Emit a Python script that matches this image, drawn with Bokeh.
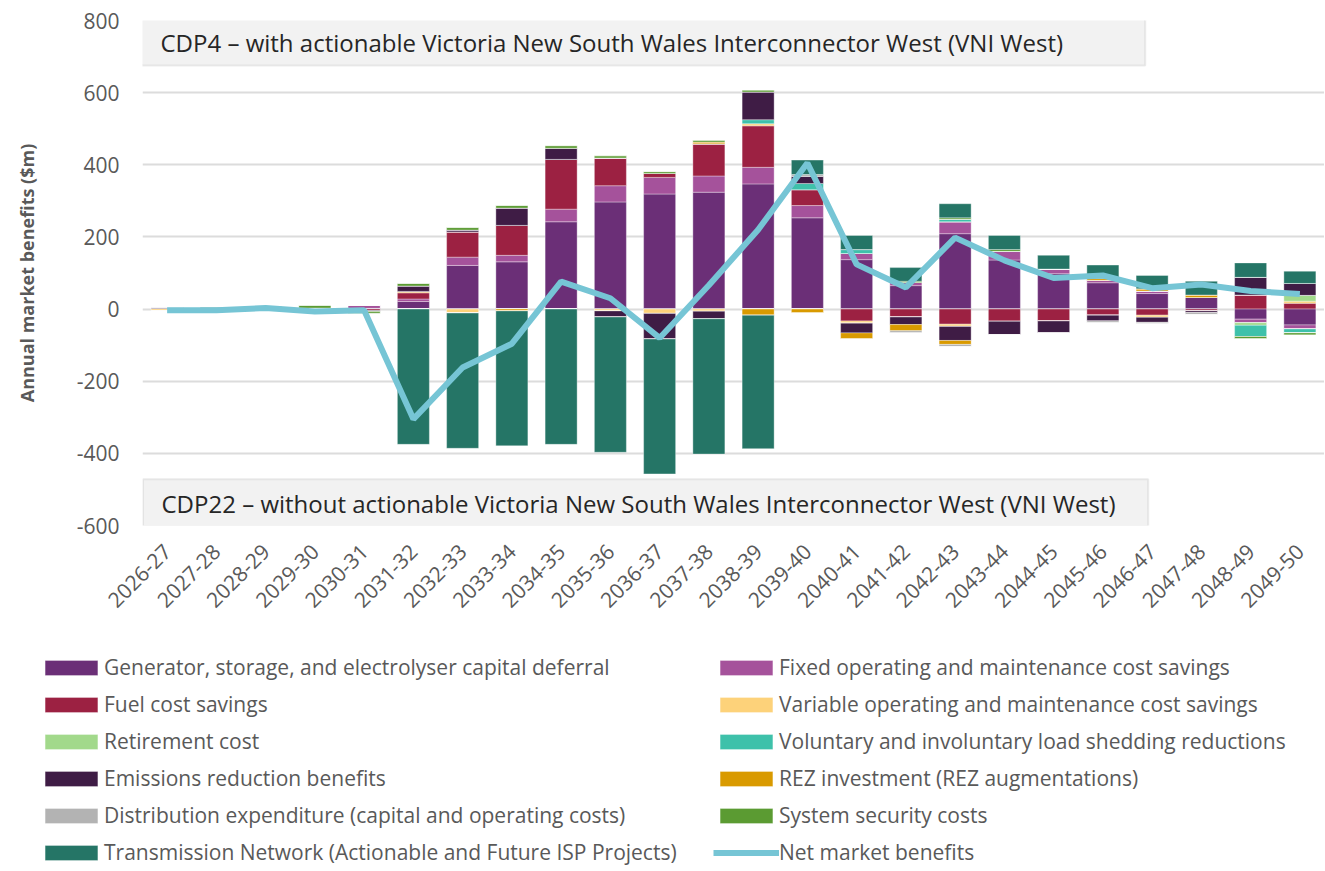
from bokeh.plotting import figure
from bokeh.models import (ColumnDataSource, Range1d, FixedTicker, Legend, LegendItem,
                          BoxAnnotation, Label)
from bokeh.layouts import column
from bokeh.embed import file_html
from bokeh.resources import INLINE
import math

years = ["2026-27", "2027-28", "2028-29", "2029-30", "2030-31", "2031-32", "2032-33",
         "2033-34", "2034-35", "2035-36", "2036-37", "2037-38", "2038-39", "2039-40",
         "2040-41", "2041-42", "2042-43", "2043-44", "2044-45", "2045-46", "2046-47",
         "2047-48", "2048-49", "2049-50"]

generator = [0, 2, 3, 3, 2, 21, 121, 131, 242, 297, 319, 324, 347, 253,
             137, 65, 209, 136, 98, 73, 43, 32, -28, -44]
fixed_om = [0, 0, 0, 0, 8, 7, 23, 18, 35, 45, 46, 45, 46, 34,
            17, 9, 33, 24, 13, 7, 7, 0, -10, -11]
fuel = [0, 0, 0, 0, -4, 17, 70, 83, 138, 77, 11, 89, 115, 44,
        -33, -22, -42, -34, -33, -17, -17, -5, 39, 16]
variable_om = [-5, 0, 0, 0, 0, 4, -11, 0, 0, -5, -12, -6, 6, 0,
               -6, 0, -6, 0, 0, 0, -6, 0, 0, 6]
retirement = [0, 0, 0, 0, 0, 0, 0, 0, 0, 0, 0, 0, 0, 0,
              0, 0, 0, 0, 0, 0, 0, 0, -7, 16]
load_shedding = [0, 0, 0, 0, 0, 0, 0, 0, 0, 0, 0, 0, 11, 17,
                 11, 0, 7, 0, 0, 0, 0, 0, -31, -11]
emissions = [5, 0, -5, -3, -3, 15, 5, 48, 31, -17, -71, -21, 77, 20,
             -27, -21, -39, -37, -33, -16, -14, -5, 49, 33]
rez = [0, 0, 0, 0, 0, 0, 0, -5, 0, 0, 0, 5, -17, -11,
       -17, -17, -11, 0, 0, 5, 6, 7, 0, 0]
distribution = [0, 0, 0, 0, 0, 0, 0, 0, 0, 0, 0, 0, 0, 5,
                0, -6, -6, 0, 0, -5, -4, -5, 0, 0]
system_security = [0, 2, 5, 7, -5, 7, 7, 7, 7, 6, 5, 5, 5, 0,
                   0, 3, 4, 5, 0, 0, 0, 0, -6, -6]
transmission = [0, 1, 0, 0, 0, -375, -375, -374, -375, -375, -374, -375, -370, 40,
                39, 38, 39, 39, 38, 37, 37, 38, 40, 34]
net_benefits = [-3, -3, 3, -7, -3, -305, -162, -96, 76, 30, -80, 66, 220, 405,
                124, 60, 198, 135, 86, 93, 58, 68, 50, 42]

y_ticks = [-600, -400, -200, 0, 200, 400, 600, 800]
y_tick_labels = ["-600", "-400", "-200", "0", "200", "400", "600", "800"]

series_labels = [
    "Generator, storage, and electrolyser capital deferral",
    "Fixed operating and maintenance cost savings",
    "Fuel cost savings",
    "Variable operating and maintenance cost savings",
    "Retirement cost",
    "Voluntary and involuntary load shedding reductions",
    "Emissions reduction benefits",
    "REZ investment (REZ augmentations)",
    "Distribution expenditure (capital and operating costs)",
    "System security costs",
    "Transmission Network (Actionable and Future ISP Projects)",
]
series_values = [generator, fixed_om, fuel, variable_om, retirement, load_shedding,
                 emissions, rez, distribution, system_security, transmission]
series_colors = ["#6B2F77", "#A5529B", "#9C2142", "#FDD27A", "#A2D98B", "#3EC1AA",
                 "#3F1C45", "#D99A00", "#B3B3B3", "#5B9B32", "#257566"]
net_label = "Net market benefits"
net_color = "#76C5D5"

FONT = "Open Sans"
W = 1324

x = list(range(len(years)))
data = {"x": x, "net": net_benefits}
pos_keys, neg_keys = [], []
for i, vals in enumerate(series_values):
    data["p%d" % i] = [max(v, 0) for v in vals]
    data["n%d" % i] = [min(v, 0) for v in vals]
    pos_keys.append("p%d" % i)
    neg_keys.append("n%d" % i)
src = ColumnDataSource(data)

p = figure(width=W, height=620, x_range=Range1d(-0.5, 23.5), y_range=Range1d(-600, 800),
           output_backend="svg", toolbar_location=None,
           min_border_left=142, min_border_right=0, min_border_top=20, min_border_bottom=95)
p.outline_line_color = None

bar_style = dict(width=0.65, line_color="white", line_alpha=0.35, line_width=1)
pos_r = p.vbar_stack(pos_keys, x="x", color=series_colors, source=src, **bar_style)
neg_r = p.vbar_stack(neg_keys, x="x", color=series_colors, source=src, **bar_style)
net_r = p.line("x", "net", source=src, line_width=6, color=net_color)

# axes
p.xaxis.ticker = FixedTicker(ticks=x)
p.xaxis.major_label_overrides = {i: y for i, y in enumerate(years)}
p.xaxis.major_label_orientation = math.pi / 4
p.xaxis.axis_line_color = None
p.xaxis.major_tick_line_color = None
p.xaxis.minor_tick_line_color = None
p.xaxis.major_label_text_font = FONT
p.xaxis.major_label_text_font_size = "21px"
p.xaxis.major_label_text_color = "#595959"
p.xaxis.major_label_standoff = 16

p.yaxis.ticker = FixedTicker(ticks=y_ticks)
p.yaxis.major_label_overrides = dict(zip(y_ticks, y_tick_labels))
p.yaxis.axis_line_color = None
p.yaxis.major_tick_line_color = None
p.yaxis.minor_tick_line_color = None
p.yaxis.major_label_text_font = FONT
p.yaxis.major_label_text_font_size = "21px"
p.yaxis.major_label_text_color = "#595959"
p.yaxis.major_label_standoff = 17
p.yaxis.axis_label = "Annual market benefits ($m)"
p.yaxis.axis_label_text_font = FONT
p.yaxis.axis_label_text_font_size = "18px"
p.yaxis.axis_label_text_font_style = "bold"
p.yaxis.axis_label_text_color = "#595959"
p.yaxis.axis_label_standoff = 35

p.xgrid.grid_line_color = None
p.ygrid.grid_line_color = "#DCDCDC"
p.ygrid.grid_line_width = 2

# scenario boxes
top_box = BoxAnnotation(left=-0.53, right=19.86, top=805, bottom=675,
                        fill_color="#F2F2F2", fill_alpha=1.0,
                        line_color="#BFBFBF", line_width=2)
bot_box = BoxAnnotation(left=-0.49, right=19.92, top=-472, bottom=-603,
                        fill_color="#F2F2F2", fill_alpha=1.0,
                        line_color="#BFBFBF", line_width=2)
p.add_layout(top_box)
p.add_layout(bot_box)
p.add_layout(Label(x=-0.5, y=739, x_offset=18,
                   text="CDP4 \u2013 with actionable Victoria New South Wales Interconnector West (VNI West)",
                   text_font=FONT, text_font_size="24px", text_color="#262626",
                   text_baseline="middle"))
p.add_layout(Label(x=-0.5, y=-538, x_offset=19,
                   text="CDP22 \u2013 without actionable Victoria New South Wales Interconnector West (VNI West)",
                   text_font=FONT, text_font_size="24px", text_color="#262626",
                   text_baseline="middle"))

# legend panel: a second figure that draws the same series out of view,
# so the legend shows each series' own glyph
lg = figure(width=W, height=250, x_range=Range1d(-0.5, 23.5), y_range=Range1d(5000, 5001),
            output_backend="svg", toolbar_location=None,
            min_border_left=0, min_border_right=0, min_border_top=0, min_border_bottom=0)
lg.axis.visible = False
lg.grid.grid_line_color = None
lg.outline_line_color = None
aligned = True
if "frame_align" in lg.properties():
    lg.frame_align = False
    aligned = False
lg_pos = lg.vbar_stack(pos_keys, x="x", color=series_colors, source=src, **bar_style)
lg_net = lg.line("x", "net", source=src, line_width=6, color=net_color)

items = [LegendItem(label=lab, renderers=[lg_pos[i]]) for i, lab in enumerate(series_labels)]
items.append(LegendItem(label=net_label, renderers=[lg_net]))
legend = Legend(items=items, orientation="horizontal", ncols=2,
                location=((38 - 142) if aligned else 38, 4), glyph_width=66, glyph_height=19,
                label_standoff=0, label_width=600, label_height=24, spacing=9,
                padding=0, margin=0, border_line_color=None, background_fill_alpha=0,
                label_text_font=FONT, label_text_font_size="21px", label_text_color="#595959")
lg.add_layout(legend, "center")

layout = column(p, lg, spacing=0)
open("out.html", "w").write(file_html(layout, INLINE))
